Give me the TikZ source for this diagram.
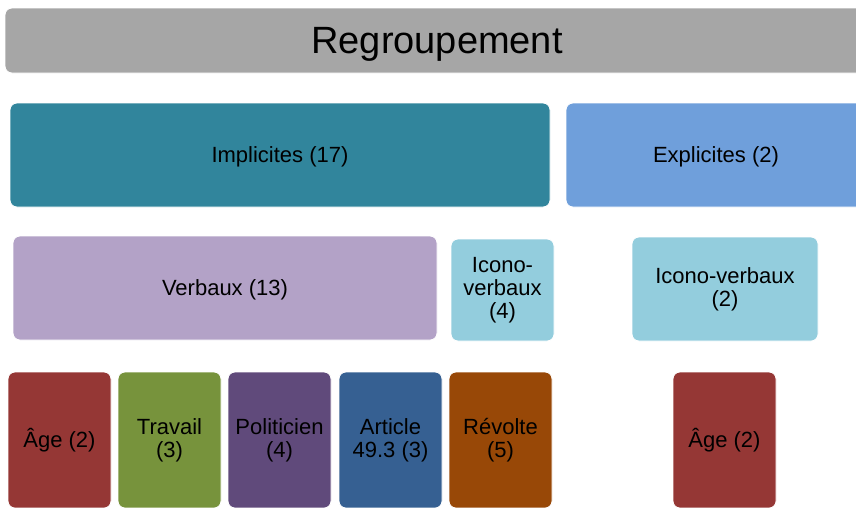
\documentclass[tikz,border=0pt]{standalone}
\usepackage{fontspec}
\setmainfont{Liberation Sans}
\usepackage{xcolor}
\definecolor{titlegray}{HTML}{A6A6A6}
\definecolor{implteal}{HTML}{31859C}
\definecolor{explblue}{HTML}{6F9FDB}
\definecolor{verblilac}{HTML}{B3A2C7}
\definecolor{iconolight}{HTML}{93CDDD}
\definecolor{agered}{HTML}{953735}
\definecolor{travgreen}{HTML}{77933C}
\definecolor{polpurple}{HTML}{604A7B}
\definecolor{artblue}{HTML}{366092}
\definecolor{revbrown}{HTML}{984807}

\begin{document}
\begin{tikzpicture}[x=1pt,y=-1pt,
    box/.style={draw=white, line width=0.8pt, rounded corners=7pt, inner sep=0pt,
      align=center, text=black, font=\fontsize{22}{23}\selectfont},
    oneline/.style={box, text height=20pt},
    titlebox/.style={box, fill=titlegray, text height=34.4pt, font=\fontsize{38}{38}\selectfont}
  ]
  \useasboundingbox (0,0) rectangle (856,507);
  \clip (0,0) rectangle (856,507);
  % Title bar
  \node[titlebox, minimum width=864pt, minimum height=65pt] (regroup) at (437,40.5) {Regroupement};
  % First level
  \node[oneline, fill=implteal, minimum width=540pt, minimum height=104pt] (impl) at (280,155) {Implicites (17)};
  \node[oneline, fill=explblue, minimum width=300pt, minimum height=104pt] (expl) at (716,155) {Explicites (2)};
  % Second level
  \node[oneline, fill=verblilac, minimum width=424pt, minimum height=104pt] (verb) at (225,288) {Verbaux (13)};
  \node[box, fill=iconolight, minimum width=103pt, minimum height=102pt] (iconoA) at (502.5,290) {Icono-\\verbaux\\(4)};
  \node[box, fill=iconolight, minimum width=186pt, minimum height=104pt] (iconoB) at (725,289) {Icono-verbaux\\(2)};
  % Third level
  \node[oneline, fill=agered, minimum width=103pt, minimum height=136pt] (ageA) at (59.5,440) {Âge (2)};
  \node[box, fill=travgreen, minimum width=103pt, minimum height=136pt] (trav) at (169.5,440) {Travail\\(3)};
  \node[box, fill=polpurple, minimum width=103pt, minimum height=136pt] (polit) at (279.5,440) {Politicien\\(4)};
  \node[box, fill=artblue, minimum width=103pt, minimum height=136pt] (artic) at (390.5,440) {Article\\49.3 (3)};
  \node[box, fill=revbrown, minimum width=103pt, minimum height=136pt] (revol) at (500.5,440) {Révolte\\(5)};
  \node[oneline, fill=agered, minimum width=103pt, minimum height=136pt] (ageB) at (724.5,440) {Âge (2)};
\end{tikzpicture}
\end{document}
